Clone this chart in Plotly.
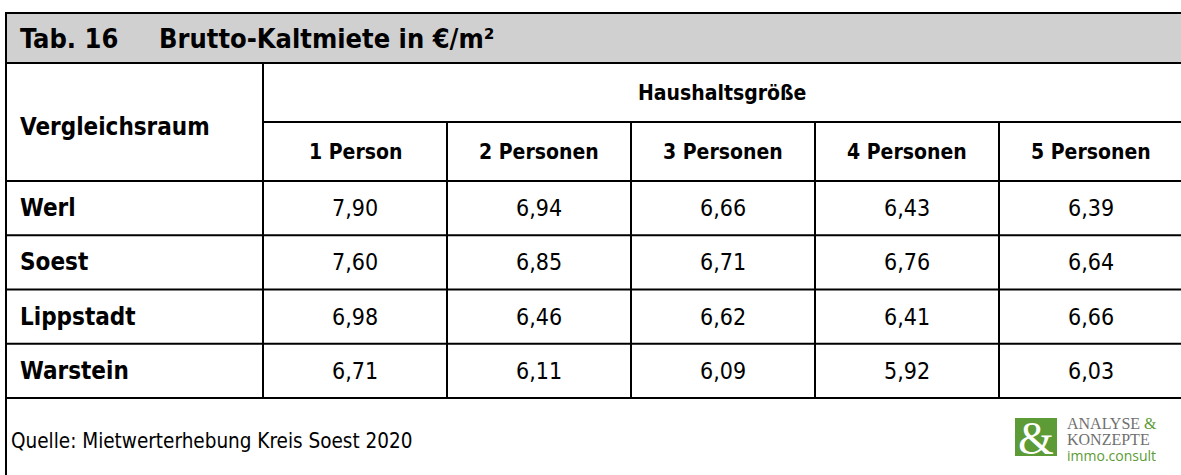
import plotly.graph_objects as go

# ---------------- data ----------------
title_no = "Tab. 16"
title_text = "Brutto-Kaltmiete in €/m²"
row_header = "Vergleichsraum"
group_header = "Haushaltsgröße"
household_sizes = ["1 Person", "2 Personen", "3 Personen", "4 Personen", "5 Personen"]
regions = ["Werl", "Soest", "Lippstadt", "Warstein"]
werl = [7.90, 6.94, 6.66, 6.43, 6.39]
soest = [7.60, 6.85, 6.71, 6.76, 6.64]
lippstadt = [6.98, 6.46, 6.62, 6.41, 6.66]
warstein = [6.71, 6.11, 6.09, 5.92, 6.03]
values = [werl, soest, lippstadt, warstein]
source = "Quelle: Mietwerterhebung Kreis Soest 2020"

# ---------------- layout geometry (pixels) ----------------
W, H = 1181, 475
LEFT, TOP, RIGHT = 6, 13, 1192
TITLE_BOTTOM = 63
SUB_LINE = 122
HEAD_BOTTOM = 181
ROW_H = 54.25
FIRST_COL_R = 263
COL_W = 184
LINE = dict(color="black", width=2)
FONT = "DejaVu Sans Condensed, DejaVu Sans, Tahoma, sans-serif"

fig = go.Figure()
shapes = []
ann = []

# title band
shapes.append(dict(type="rect", x0=LEFT, x1=RIGHT, y0=TOP, y1=TITLE_BOTTOM,
                   fillcolor="#d0d0d0", line=dict(width=0), layer="below"))
table_bottom = HEAD_BOTTOM + ROW_H * len(regions)
# outer border
shapes.append(dict(type="rect", x0=LEFT, x1=RIGHT, y0=TOP, y1=H + 10, line=LINE))
# horizontal lines
for y, x0 in [(TITLE_BOTTOM, LEFT), (SUB_LINE, FIRST_COL_R), (HEAD_BOTTOM, LEFT)]:
    shapes.append(dict(type="line", x0=x0, x1=RIGHT, y0=y, y1=y, line=LINE))
for i in range(len(regions)):
    y = HEAD_BOTTOM + ROW_H * (i + 1)
    shapes.append(dict(type="line", x0=LEFT, x1=RIGHT, y0=y, y1=y, line=LINE))
# vertical lines
shapes.append(dict(type="line", x0=FIRST_COL_R, x1=FIRST_COL_R, y0=TITLE_BOTTOM, y1=table_bottom, line=LINE))
for j in range(1, len(household_sizes)):
    x = FIRST_COL_R + COL_W * j
    shapes.append(dict(type="line", x0=x, x1=x, y0=SUB_LINE, y1=table_bottom, line=LINE))


def text(x, y, s, size, bold=False, anchor="left", color="black", family=FONT):
    ann.append(dict(x=x, y=y, xref="x", yref="y", text=f"<b>{s}</b>" if bold else s,
                    showarrow=False, xanchor=anchor, yanchor="middle", borderpad=0,
                    font=dict(family=family, size=size, color=color)))


text(19, 38, title_no, 27, bold=True)
text(158, 38, title_text, 27, bold=True)
text(19, 127, row_header, 24, bold=True)
text((FIRST_COL_R + W) / 2, 93, group_header, 21, bold=True, anchor="center")
for j, hs in enumerate(household_sizes):
    text(FIRST_COL_R + COL_W * (j + 0.5), 152, hs, 21, bold=True, anchor="center")
for i, reg in enumerate(regions):
    yc = HEAD_BOTTOM + ROW_H * (i + 0.5)
    text(19, yc, reg, 24, bold=True)
    for j, v in enumerate(values[i]):
        text(FIRST_COL_R + COL_W * (j + 0.5), yc, f"{v:.2f}".replace(".", ","), 23, anchor="center")
text(10, 441, source, 20.5)

# logo
GREEN = "#5c9b35"
shapes.append(dict(type="rect", x0=1015, x1=1057, y0=418, y1=456, fillcolor=GREEN,
                   line=dict(width=0)))
text(1036, 438, "&amp;", 46, anchor="center", color="white", family="Liberation Serif, serif")
text(1066, 423, "ANALYSE <span style='color:" + GREEN + "'>&amp;</span>", 16, color="#707070",
     family="Liberation Serif, serif")
text(1066, 439, "KONZEPTE", 16, color="#707070", family="Liberation Serif, serif")
text(1066, 455, "immo.consult", 14, color=GREEN, family="Open Sans, sans-serif")

fig.update_layout(
    width=W, height=H, margin=dict(l=0, r=0, t=0, b=0),
    paper_bgcolor="white", plot_bgcolor="white",
    shapes=shapes, annotations=ann, showlegend=False,
    xaxis=dict(range=[0, W], visible=False, fixedrange=True),
    yaxis=dict(range=[H, 0], visible=False, fixedrange=True),
)
fig.write_html("out.html", config={"displayModeBar": False},
               post_script="document.body.style.margin='0';")
